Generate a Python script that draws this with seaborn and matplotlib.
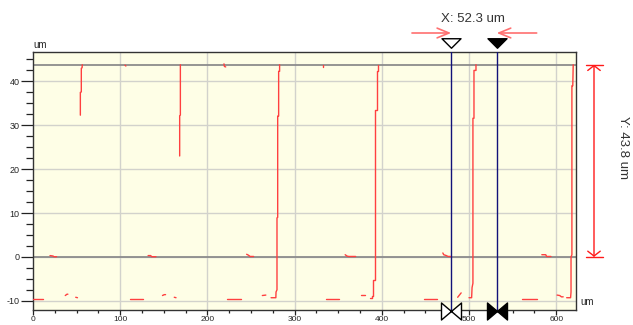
import numpy as np
import pandas as pd
import matplotlib
matplotlib.use("Agg")
import matplotlib.pyplot as plt
from matplotlib.path import Path
import seaborn as sns

# ---- data ----
# profile segments (segment id, x in um, height in um)
seg_ids = [0, 0,
           1, 1, 1,
           2, 2,
           3, 3, 3, 3,
           4, 4, 4, 4, 4, 4,
           5, 5,
           6, 6,
           7, 7, 7,
           8, 8,
           9, 9, 9, 9,
           10, 10, 10, 10,
           11, 11, 11,
           12, 12, 12, 12,
           13, 13,
           14, 14,
           15, 15, 15, 15, 15, 15, 15, 15, 15, 15, 15,
           16, 16,
           17, 17, 17, 17,
           18, 18,
           19, 19,
           20, 20, 20, 20, 20, 20, 20, 20, 20, 20, 20,
           21, 21, 21, 21, 21,
           22, 22,
           23, 23, 23,
           24, 24, 24, 24, 24, 24, 24, 24, 24,
           25, 25, 25, 25,
           26, 26,
           27, 27, 27, 27,
           28, 28, 28, 28, 28, 28, 28, 28]
profile_x = [0, 12,
             37, 39, 40,
             49, 51,
             19.5, 23, 24, 27,
             56.5, 56.3, 55.4, 55.4, 54.3, 54.3,
             105.5, 106.5,
             111, 126,
             148.5, 150.5, 152,
             162, 164,
             132, 135, 136, 141,
             169, 169, 168.2, 168.2,
             219, 219.5, 221,
             245, 247, 249, 253,
             222.5, 239,
             263, 267,
             273, 278.5, 278.7, 279.8, 279.8, 280.6, 280.6, 281.7, 281.7, 282.8, 282.8,
             332.5, 332.5,
             358, 360, 362, 370,
             336, 351,
             376, 381,
             386.5, 389, 389, 390, 390, 392, 392, 394, 394, 395.6, 395.6,
             470, 471, 474, 476, 479,
             448.5, 463,
             487, 489, 491,
             500, 503, 503.5, 504.5, 504.5, 505.7, 505.7, 508, 508,
             583.5, 588, 589, 594,
             561, 578,
             601, 604, 606, 608,
             612, 616.5, 617, 617, 618, 618, 619, 619.5]
profile_y = [-9.5, -9.5,
             -8.8, -8.5, -8.5,
             -9.2, -9.3,
             0.3, 0.2, 0.05, 0.05,
             43.8, 43.1, 43.0, 37.6, 37.5, 32.3,
             43.7, 43.5,
             -9.5, -9.5,
             -8.8, -8.6, -8.6,
             -9.2, -9.3,
             0.3, 0.3, 0.05, 0.05,
             43.8, 32.3, 32.2, 23.0,
             44.0, 43.4, 43.3,
             0.6, 0.4, 0.1, 0.1,
             -9.5, -9.5,
             -8.8, -8.7,
             -9.3, -9.3, -8.0, -7.5, 8.9, 9.0, 32.1, 32.1, 42.3, 42.3, 43.8,
             43.8, 43.3,
             0.5, 0.2, 0.1, 0.1,
             -9.5, -9.5,
             -8.7, -8.7,
             -9.3, -9.3, -9.0, -9.0, -5.2, -5.2, 33.5, 33.5, 42.3, 42.3, 43.8,
             0.9, 0.5, 0.3, 0.1, 0.1,
             -9.5, -9.5,
             -9.2, -8.7, -8.2,
             -9.3, -9.3, -7.0, -6.0, 31.6, 31.6, 42.5, 42.5, 43.8,
             0.5, 0.5, 0.1, 0.1,
             -9.5, -9.5,
             -8.7, -8.8, -9.1, -9.1,
             -9.3, -9.3, -8.0, 0.0, 0.5, 39.0, 39.0, 43.8]

ref_levels = [0.0, 43.8]          # gray reference lines
cursor_x = [479.5, 531.8]         # measurement cursors
x_ticks = [0, 100, 200, 300, 400, 500, 600]
y_ticks = [-10, 0, 10, 20, 30, 40]
x_label_text = "X: 52.3 um"
y_label_text = "Y: 43.8 um"
unit = "um"

df = pd.DataFrame({"seg": seg_ids, "x": profile_x, "y": profile_y})

# ---- figure ----
sns.set_style("ticks")
plt.rcParams["font.family"] = ["Liberation Sans", "DejaVu Sans"]

W, H = 633, 325
fig = plt.figure(figsize=(W / 100, H / 100), dpi=100)
L, R, T, B = 33, 576, 52, 310
ax = fig.add_axes([L / W, 1 - B / H, (R - L) / W, (B - T) / H])
ax.set_facecolor("#fefee6")

xmin, xmax = 0, 622.7
ymin, ymax = -12.1, 46.7
ax.set_xlim(xmin, xmax)
ax.set_ylim(ymin, ymax)

# grid
for xv in x_ticks[1:]:
    ax.axvline(xv, color="#d2d2cc", lw=1.0, zorder=0)
for yv in y_ticks:
    ax.axhline(yv, color="#d2d2cc", lw=1.0, zorder=0)
for yv in ref_levels:
    ax.axhline(yv, color="#8c8c8c", lw=1.3, zorder=1)

sns.lineplot(data=df, x="x", y="y", units="seg", estimator=None, sort=False,
             color="#ff4040", lw=1.0, ax=ax, legend=False, zorder=3)

# cursors
for cx in cursor_x:
    ax.axvline(cx, color="#12127a", lw=1.0, zorder=4)

ax.set_xlabel("")
ax.set_ylabel("")
ax.set_xticks(x_ticks)
ax.set_yticks(y_ticks)
ax.set_xticklabels([str(v) for v in x_ticks])
ax.set_yticklabels([str(v) for v in y_ticks])
ax.set_xticks(np.arange(0, 625, 25), minor=True)
ax.set_yticks(np.arange(-10, 46, 2.5), minor=True)
ax.tick_params(axis="y", which="major", length=8.5, width=0.9, pad=1, labelsize=6.5, color="#222222")
ax.tick_params(axis="y", which="minor", length=5, width=0.9, color="#222222")
ax.tick_params(axis="x", which="major", length=3.5, width=0.9, pad=0.5, labelsize=6.0, color="#222222")
ax.tick_params(axis="x", which="minor", length=2.2, width=0.9, color="#222222")
for s in ax.spines.values():
    s.set_color("#333333")
    s.set_linewidth(1.0)

# cursor markers (top triangles, bottom bowties)
tri = Path([(-1, 0.5), (1, 0.5), (0, -0.5), (-1, 0.5)],
           [Path.MOVETO, Path.LINETO, Path.LINETO, Path.CLOSEPOLY])
bow = Path([(-1, 0.85), (1, -0.85), (1, 0.85), (-1, -0.85), (-1, 0.85)],
           [Path.MOVETO, Path.LINETO, Path.LINETO, Path.LINETO, Path.CLOSEPOLY])
tr = ax.get_xaxis_transform()
top_y = (B - 43) / (B - T)
bot_y = (B - 311) / (B - T)
faces = ["white", "black"]
for cx, fc in zip(cursor_x, faces):
    ax.plot([cx], [top_y], marker=tri, ms=13.7, mfc=fc, mec="black", mew=1.0,
            transform=tr, clip_on=False, zorder=6)
    ax.plot([cx], [bot_y], marker=bow, ms=14.4, mfc=fc, mec="black", mew=1.0,
            transform=tr, clip_on=False, zorder=6)

# red arrows pointing at the cursors
arr_y = (B - 33) / (B - T)
ax.annotate("", xy=(cursor_x[0], arr_y), xytext=(434.6, arr_y),
            xycoords=tr, textcoords=tr,
            arrowprops=dict(arrowstyle="->,head_length=0.85,head_width=0.35",
                            color="#ff7070", lw=1.2, shrinkA=0, shrinkB=0))
ax.annotate("", xy=(cursor_x[1], arr_y), xytext=(577.6, arr_y),
            xycoords=tr, textcoords=tr,
            arrowprops=dict(arrowstyle="->,head_length=0.85,head_width=0.35",
                            color="#ff7070", lw=1.2, shrinkA=0, shrinkB=0))
fig.text(473 / W, 1 - 19 / H, x_label_text, ha="center", va="center",
         fontsize=9.5, color="#333333")

# Y dimension arrow
yx = (594 - L) / (R - L) * (xmax - xmin) + xmin
ax.annotate("", xy=(yx, ref_levels[1]), xytext=(yx, ref_levels[0]),
            arrowprops=dict(arrowstyle="<->,head_length=0.35,head_width=0.45",
                            color="#ff1a1a", lw=1.0, shrinkA=0, shrinkB=0),
            annotation_clip=False)
cap_half = 8.5 / (R - L) * (xmax - xmin)
for yv in ref_levels:
    ax.plot([yx - cap_half, yx + cap_half], [yv, yv], color="#ff1a1a", lw=1.0,
            clip_on=False, zorder=5)
fig.text(623 / W, 1 - 147 / H, y_label_text, ha="center", va="center",
         rotation=270, fontsize=9.5, color="#333333")

# unit labels
fig.text(33 / W, 1 - 45 / H, unit, ha="left", va="center", fontsize=7, color="#222222")
fig.text(580 / W, 1 - 302 / H, unit, ha="left", va="center", fontsize=7, color="#222222")

fig.savefig("out.png", dpi=100, facecolor="white")
